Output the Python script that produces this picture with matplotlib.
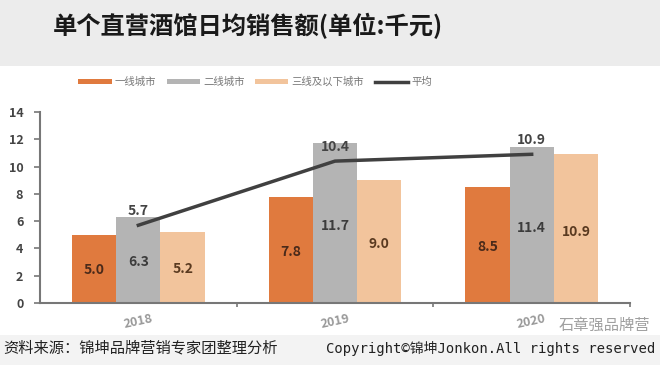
import matplotlib.pyplot as plt
import numpy as np
from matplotlib.patches import Rectangle

plt.rcParams["font.family"] = ["Noto Sans CJK SC", "DejaVu Sans"]

# data
years = ["2018", "2019", "2020"]
series_names = ["一线城市", "二线城市", "三线及以下城市"]
tier1 = [5.0, 7.8, 8.5]
tier2 = [6.3, 11.7, 11.4]
tier3 = [5.2, 9.0, 10.9]
average = [5.7, 10.4, 10.9]
avg_name = "平均"
yticks = [0, 2, 4, 6, 8, 10, 12, 14]

colors = ["#E07A3E", "#B4B4B4", "#F2C49C"]
label_colors = ["#4a2a1a", "#3c3c3c", "#5a3a20"]
line_color = "#404040"

W, H = 660, 365
fig = plt.figure(figsize=(W / 100, H / 100), dpi=100)
fig.patch.set_facecolor("white")

# header band
fig.patches.append(Rectangle((0, 1 - 66 / H), 1, 66 / H, transform=fig.transFigure,
                             facecolor="#ececec", edgecolor="none", zorder=0))
fig.text(248 / W, 1 - 26 / H, "单个直营酒馆日均销售额(单位:千元)", ha="center", va="center",
         fontsize=17.5, fontweight="bold", color="#1a1a1a")

# footer band
fig.patches.append(Rectangle((0, 0), 1, 30 / H, transform=fig.transFigure,
                             facecolor="#f3f3f3", edgecolor="none", zorder=0))

ax = fig.add_axes([40 / W, (H - 303) / H, 590 / W, (303 - 112) / H])
x = np.arange(len(years))
bw = 0.225
groups = [tier1, tier2, tier3]
for i, (vals, c, lc) in enumerate(zip(groups, colors, label_colors)):
    pos = x + (i - 1) * bw
    ax.bar(pos, vals, width=bw, color=c, label=series_names[i], zorder=2)
    for p, v in zip(pos, vals):
        ax.text(p, v * 0.48, f"{v:.1f}", ha="center", va="center",
                fontsize=10, fontweight="bold", color=lc, zorder=4)

ax.plot(x, average, color=line_color, lw=2.5, label=avg_name, zorder=3)
for xi, v in zip(x, average):
    ax.text(xi, v + 0.5, f"{v:.1f}", ha="center", va="bottom", fontsize=10,
            fontweight="bold", color="#444444", zorder=5)

ax.set_xlim(-0.5, 2.5)
ax.set_ylim(0, 14)
ax.set_yticks(yticks)
ax.set_yticklabels([str(t) for t in yticks], fontsize=9, fontweight="bold", color="#444444")
ax.set_xticks([0.5, 1.5, 2.5])
ax.set_xticklabels([])
ax.tick_params(axis="x", length=3, color="#777777", width=1.2)
ax.tick_params(axis="y", length=4, color="#777777", width=1.2, pad=8)
for xi, yr in zip(x, years):
    ax.text(xi, -0.7, yr, ha="center", va="top", rotation=12, fontsize=9,
            fontweight="bold", color="#999999")
for s in ["top", "right"]:
    ax.spines[s].set_visible(False)
for s in ["left", "bottom"]:
    ax.spines[s].set_color("#777777")
    ax.spines[s].set_linewidth(1.5)

handles, labels = ax.get_legend_handles_labels()
order = [1, 2, 3, 0]
leg = fig.legend([handles[k] for k in order], [labels[k] for k in order],
                 loc="center", bbox_to_anchor=(255 / W, 1 - 82 / H), ncol=4, frameon=False,
                 fontsize=7.5, handlelength=3.2, handleheight=0.45, columnspacing=1.0,
                 handletextpad=0.3, labelcolor="#777777")

fig.text(3 / W, 1 - 348 / H, "资料来源：锦坤品牌营销专家团整理分析", ha="left", va="center",
         fontsize=11, color="#222222")
fig.text(655 / W, 1 - 348 / H, "Copyright©锦坤Jonkon.All rights reserved", ha="right",
         va="center", fontsize=10, color="#222222",
         family=["DejaVu Sans Mono", "Noto Sans CJK SC"])
fig.text(650 / W, 1 - 325 / H, "石章强品牌营", ha="right", va="center", fontsize=11,
         color="#888888", alpha=0.8)

fig.savefig("out.png", dpi=100)
